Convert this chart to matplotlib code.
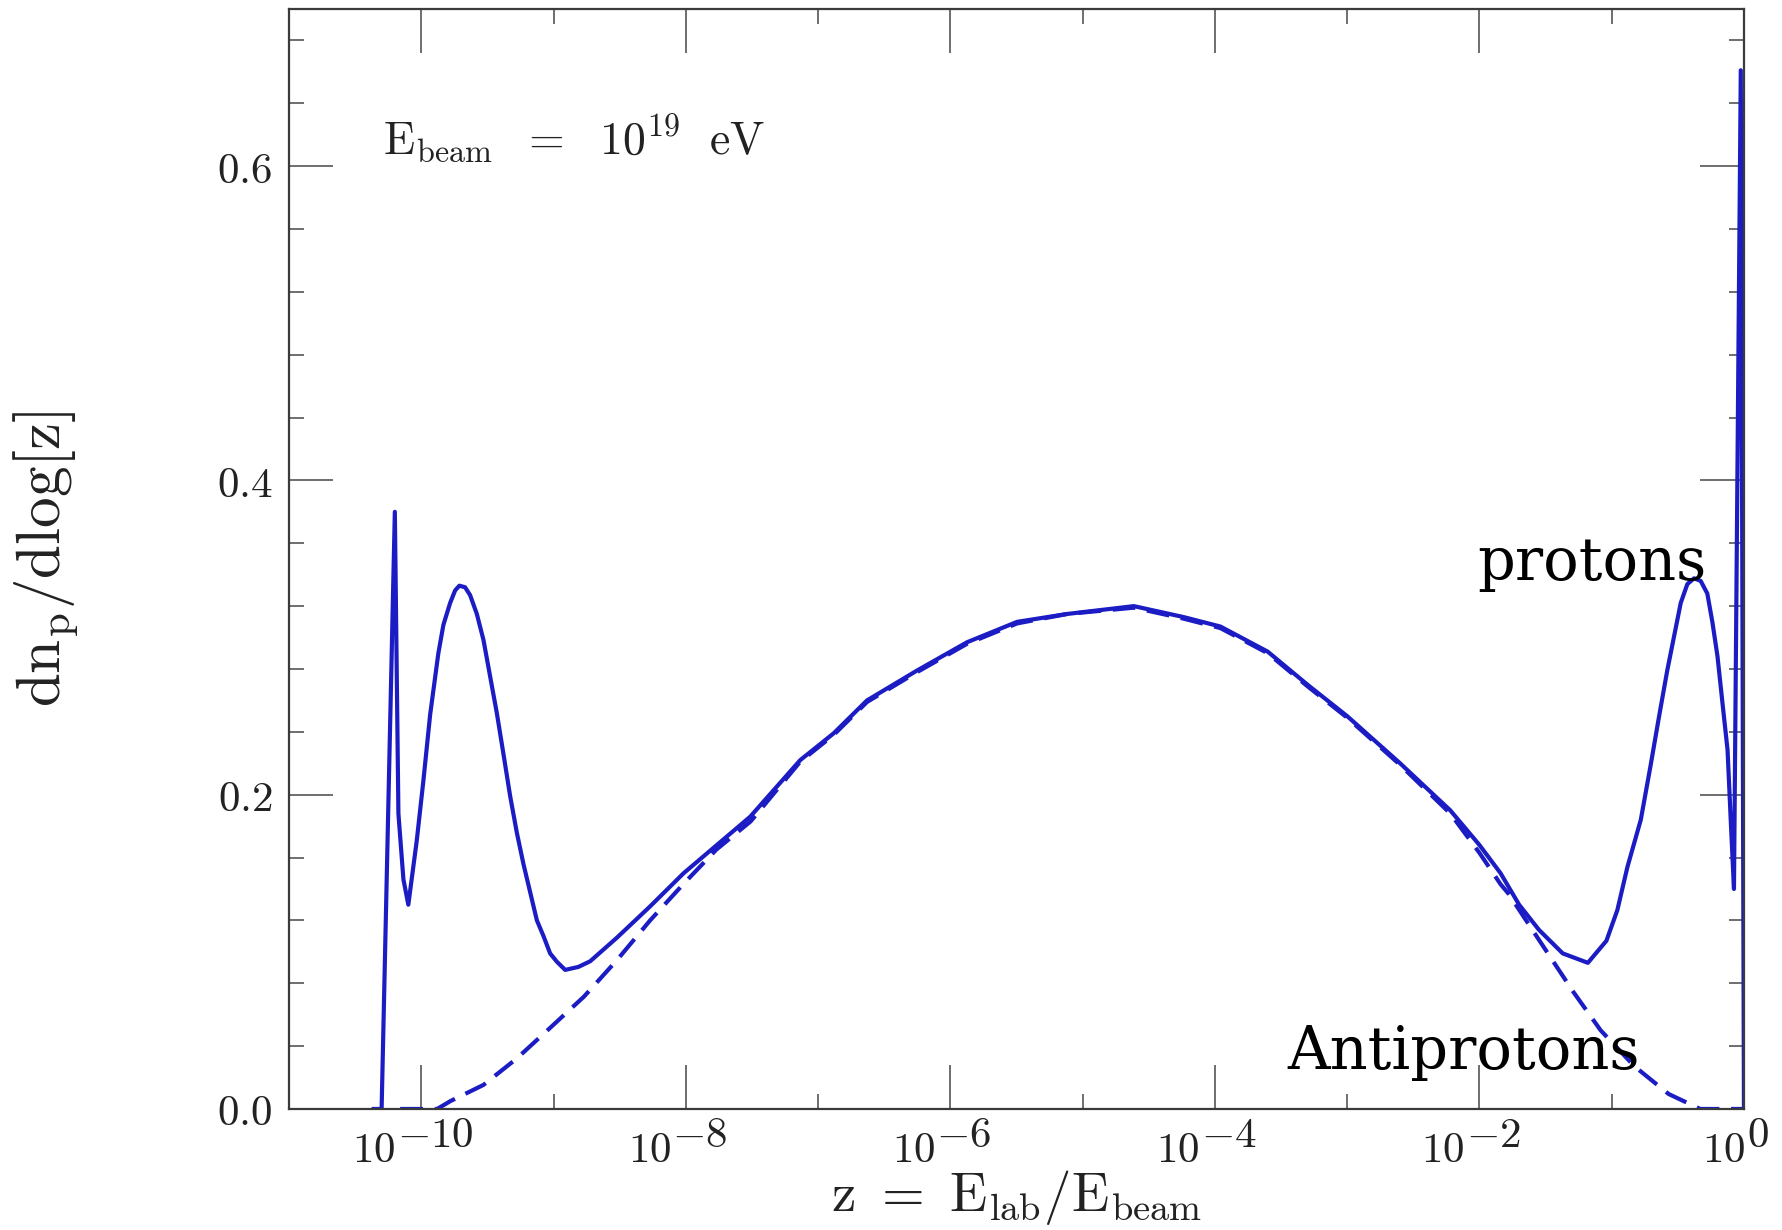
import numpy as np
import matplotlib
matplotlib.use("Agg")
import matplotlib.pyplot as plt
from matplotlib.ticker import FixedLocator, FuncFormatter, MultipleLocator, NullFormatter
from matplotlib.transforms import ScaledTranslation, blended_transform_factory

# Proton spectrum (solid): log10 z and dn/dlog z
proton_logz = [-10.36, -10.30, -10.20, -10.173, -10.135, -10.098, -10.034, -9.984,
               -9.933, -9.871, -9.833, -9.782, -9.744, -9.712, -9.669, -9.631, -9.58,
               -9.530, -9.429, -9.379, -9.328, -9.278, -9.228, -9.177, -9.126, -9.076,
               -9.026, -8.975, -8.912, -8.812, -8.723, -8.521, -8.269, -8.017, -7.765,
               -7.513, -7.135, -6.883, -6.630, -6.252, -5.874, -5.495, -5.117, -4.613,
               -4.235, -3.958, -3.6, -3.3, -3.0, -2.6, -2.22, -2.0, -1.84, -1.70, -1.55,
               -1.37, -1.18, -1.04, -0.957, -0.881, -0.78, -0.707, -0.642, -0.58, -0.478,
               -0.428, -0.377, -0.327, -0.277, -0.238, -0.20, -0.162, -0.124, -0.10,
               -0.0755, -0.024, 0.0]
proton_val = [0.0, 0.0, 0.380, 0.188, 0.146, 0.130, 0.171, 0.209,
              0.251, 0.290, 0.308, 0.322, 0.330, 0.333, 0.332, 0.327, 0.315,
              0.2985, 0.252, 0.226, 0.199, 0.176, 0.156, 0.138, 0.120, 0.110,
              0.099, 0.0937, 0.0885, 0.0904, 0.094, 0.109, 0.129, 0.150, 0.168,
              0.186, 0.222, 0.239, 0.260, 0.279, 0.297, 0.310, 0.315, 0.320,
              0.313, 0.307, 0.291, 0.270, 0.250, 0.220, 0.190, 0.168, 0.150, 0.130, 0.114,
              0.099, 0.093, 0.107, 0.1266, 0.154, 0.184, 0.218, 0.2497, 0.279, 0.322,
              0.334, 0.3377, 0.336, 0.328, 0.3095, 0.288, 0.258, 0.2285, 0.184,
              0.140, 0.661, 0.0]

# Antiproton spectrum (dashed)
antiproton_logz = [-10.16, -9.88, -9.78, -9.53, -9.28, -9.03, -8.77, -8.52, -8.27,
                   -8.02, -7.77, -7.51, -7.135, -6.883, -6.63, -6.252, -5.874, -5.495,
                   -5.117, -4.613, -4.235, -3.958, -3.6, -3.3, -3.0, -2.6, -2.22, -2.0,
                   -1.84, -1.78, -1.537, -1.29, -1.083, -0.826, -0.569, -0.33, 0.0]
antiproton_val = [0.0, 0.0, 0.005, 0.0153, 0.032, 0.0513, 0.0715, 0.0948, 0.120,
                  0.143, 0.165, 0.183, 0.221, 0.238, 0.259, 0.278, 0.296, 0.309,
                  0.315, 0.319, 0.312, 0.306, 0.290, 0.269, 0.249, 0.219, 0.188, 0.163,
                  0.143, 0.137, 0.106, 0.0745, 0.050, 0.027, 0.0095, 0.0, 0.0]

major_exponents = [-10, -8, -6, -4, -2, 0]
minor_exponents = [-11, -9, -7, -5, -3, -1]
y_major_ticks = [0.0, 0.2, 0.4, 0.6]

plt.rcParams["mathtext.fontset"] = "cm"
plt.rcParams["font.family"] = ["DejaVu Serif"]

fig = plt.figure(figsize=(17.83, 12.30), dpi=100)
ax = fig.add_axes([0.1621, 0.0984, 0.8160, 0.8943])

line_color = "#1c1cc4"
text_color = "#222222"
ax.plot(10.0 ** np.array(proton_logz), proton_val, color=line_color, lw=3.0,
        solid_joinstyle="round")
ax.plot(10.0 ** np.array(antiproton_logz), antiproton_val, color=line_color, lw=3.0,
        dashes=(5.5, 2.8))

ax.set_xscale("log")
ax.set_xlim(1e-11, 1.0)
ax.set_ylim(0.0, 0.7)

ax.xaxis.set_major_locator(FixedLocator([10.0 ** e for e in major_exponents]))
ax.xaxis.set_minor_locator(FixedLocator([10.0 ** e for e in minor_exponents]))
ax.xaxis.set_major_formatter(NullFormatter())
ax.xaxis.set_minor_formatter(NullFormatter())

ax.yaxis.set_major_locator(FixedLocator(y_major_ticks))
ax.yaxis.set_minor_locator(MultipleLocator(0.04))
ax.yaxis.set_major_formatter(FuncFormatter(lambda v, p: r"$%.1f$" % v))

for s in ax.spines.values():
    s.set_linewidth(1.6)
    s.set_color("#3a3a3a")

ax.tick_params(which="both", direction="in", top=True, right=True,
               color="#555555", width=1.2)
ax.tick_params(which="major", length=32)
ax.tick_params(which="minor", length=11)
ax.tick_params(axis="y", which="major", labelsize=31, pad=12, labelcolor=text_color)

ax.set_xlabel(r"$\mathrm{z\ =\ E_{lab}/E_{beam}}$", fontsize=39.5, color=text_color)
ax.xaxis.set_label_coords(0.5, -0.0535)
ax.set_ylabel(r"$\mathrm{dn_p/dlog[z]}$", fontsize=44, color=text_color)
ax.yaxis.set_label_coords(-0.143, 0.5)

ax.text(10 ** -10.289, 0.6077, r"$\mathrm{E_{beam}\ \ =\ \ 10^{19}\ \ eV}$",
        fontsize=33, va="baseline", ha="left", color=text_color)
ax.text(10 ** -2.013, 0.3366, "protons", fontsize=42.5, va="baseline", ha="left",
        family="DejaVu Serif", color="black")
ax.text(10 ** -3.451, 0.0255, "Antiprotons", fontsize=42.5, va="baseline", ha="left",
        family="DejaVu Serif", color="black")

# Decade labels: base "10" with a full-size raised exponent
xlab = blended_transform_factory(ax.transData, ax.transAxes)
tick_fs = 31
pairs = []
for e in major_exponents:
    tb = ax.text(10.0 ** e, 0.0, r"$10$", transform=xlab, fontsize=tick_fs,
                 ha="left", va="baseline", color=text_color, clip_on=False)
    ts = ax.text(10.0 ** e, 0.0, r"$%d$" % e, transform=xlab, fontsize=tick_fs,
                 ha="left", va="baseline", color=text_color, clip_on=False)
    pairs.append((tb, ts))

fig.canvas.draw()
rend = fig.canvas.get_renderer()
px = 1.0 / fig.dpi
for tb, ts in pairs:
    wb = tb.get_window_extent(rend).width
    ws = ts.get_window_extent(rend).width
    left = -9.0 - (wb + ws) / 2.0
    tb.set_transform(xlab + ScaledTranslation(left * px, -53 * px, fig.dpi_scale_trans))
    ts.set_transform(xlab + ScaledTranslation((left + wb + 1) * px, -38 * px,
                                              fig.dpi_scale_trans))

fig.savefig("out.png", dpi=100)
